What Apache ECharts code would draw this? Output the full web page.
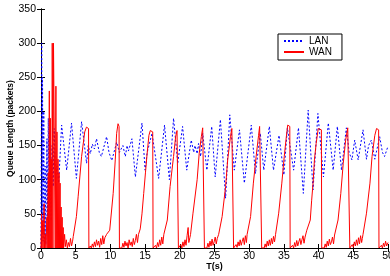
<!DOCTYPE html>
<html>
<head>
<meta charset="utf-8">
<script src="https://cdn.jsdelivr.net/npm/echarts@6/dist/echarts.min.js"></script>
<style>
  html, body { margin: 0; padding: 0; background: #fff; }
  #chart { width: 390px; height: 276px; }
</style>
</head>
<body>
<div id="chart"></div>
<script>
// axis ranges
var tMin = 0, tMax = 50, tStep = 5;
var qMin = 0, qMax = 350, qStep = 50;
var seriesNames = ['LAN', 'WAN'];

// LAN queue length [T(s), packets]
var lanQueue = [
    [0,0],[0.05,150],[0.1,300],[0.15,20],[0.22,250],[0.3,10],[0.4,200],[0.5,0],[0.6,120],
    [0.7,5],[0.85,160],[0.95,40],[1.05,190],[1.15,60],[1.3,120],[1.45,40],[1.6,150],
    [1.75,90],[1.9,175],[2.1,100],[2.3,120],[2.55,95],[2.97,180],[3.3,150],[3.7,114],
    [4.4,183],[5.1,102],[5.85,185],[6.57,124],[6.8,150],[7.1,138],[7.4,152],[7.7,145],
    [8.0,160],[8.4,140],[8.7,134],[9.45,163],[9.8,140],[10.2,128],[10.9,155],[11.3,140],
    [11.8,150],[12.15,134],[12.4,150],[12.6,142],[13.1,160],[13.6,104],[14.55,183],
    [15.0,114],[15.3,140],[16.0,168],[16.95,102],[17.8,180],[18.5,100],[19.1,190],
    [19.7,124],[20.4,178],[21.0,114],[21.65,158],[22.0,140],[22.2,150],[22.5,138],
    [22.7,153],[23.0,134],[23.3,168],[23.9,114],[24.6,178],[25.1,104],[25.85,188],
    [26.6,73],[27.2,195],[27.85,114],[28.6,173],[29.3,95],[30.3,180],[30.9,109],
    [31.6,168],[32.1,114],[32.9,178],[33.5,114],[34.3,165],[35.0,107],[35.5,176],
    [36.4,114],[37.1,176],[37.8,80],[38.5,202],[39.2,85],[39.9,197],[40.7,104],
    [41.4,183],[42.1,114],[42.7,178],[43.3,114],[44.0,176],[44.4,140],[44.8,129],
    [45.2,158],[45.7,129],[46.4,173],[46.9,130],[47.2,150],[47.6,158],[48.1,130],
    [48.8,163],[49.2,140],[49.5,134],[50,149]
];

// WAN queue length [T(s), packets]
var wanQueue = [
    [0,0],[0.08,50],[0.12,0],[0.25,40],[0.3,0],[0.45,65],[0.5,0],[0.65,20],[0.7,0],
    [0.85,45],[0.9,0],[1.05,110],[1.1,0],[1.2,230],[1.25,0],[1.35,190],[1.4,0],
    [1.5,130],[1.55,0],[1.62,300],[1.7,300],[1.72,0],[1.8,300],[2.0,300],[2.05,0],
    [2.15,237],[2.2,0],[2.3,170],[2.35,0],[2.45,130],[2.5,0],[2.6,110],[2.65,0],
    [2.75,95],[2.8,0],[2.9,60],[2.95,0],[3.05,45],[3.1,0],[3.2,30],[3.25,0],[3.4,20],
    [3.5,2],[3.65,12],[3.8,0],[3.95,8],[4.1,2],[4.25,14],[4.4,3],[4.55,10],
    [4.65,17],[5.1,46],[5.35,75],[5.85,134],[6.3,170],[6.55,177],[6.85,175],[6.9,0],
    [7.1,3],[7.25,0],[7.4,6],[7.55,1],[7.7,9],[7.85,2],[8.0,12],[8.15,4],[8.3,10],
    [8.45,1],[8.6,14],[8.75,5],[8.9,18],[9.05,6],[9.2,15],
    [9.45,20],[9.9,26],[10.4,80],[10.7,129],[10.9,168],[11.1,182],[11.25,178],[11.3,0],
    [11.5,2],[11.65,0],[11.8,7],[11.95,1],[12.1,10],[12.25,3],[12.4,8],[12.55,0],
    [12.7,12],[12.85,4],[13.0,9],[13.15,2],[13.3,14],[13.45,5],[13.6,11],[13.75,20],[13.9,8],
    [14.05,20],[14.3,28],[14.55,50],[14.8,80],[15.05,110],[15.3,139],[15.55,165],
    [15.75,172],[16.1,170],[16.15,0],
    [16.35,0],[16.5,4],[16.65,0],[16.8,8],[16.95,2],[17.1,12],[17.25,4],[17.4,16],
    [17.55,6],[17.7,20],
    [17.85,20],[18.2,41],[18.6,90],[19.1,134],[19.4,163],[19.6,172],[19.75,170],[19.8,0],
    [20.0,0],[20.15,5],[20.3,0],[20.45,9],[20.6,2],[20.75,12],[20.9,4],[21.05,18],
    [21.2,30],[21.3,8],[21.45,15],
    [21.55,20],[21.9,51],[22.5,100],[22.8,139],[23.1,163],[23.3,176],[23.5,174],[23.55,0],
    [23.75,2],[23.9,0],[24.05,7],[24.2,1],[24.35,10],[24.5,3],[24.65,13],[24.8,4],
    [24.95,9],[25.1,16],[25.25,6],[25.4,14],
    [25.6,20],[26.1,46],[26.6,90],[26.9,129],[27.3,163],[27.5,175],[27.7,173],[27.75,0],
    [27.95,0],[28.1,5],[28.25,1],[28.4,9],[28.55,3],[28.7,12],[28.85,4],[29.0,10],
    [29.15,15],[29.3,5],[29.45,18],[29.6,8],
    [29.7,20],[30.2,46],[30.6,95],[31.0,134],[31.35,165],[31.5,178],[31.75,176],[31.8,0],
    [32.0,2],[32.15,0],[32.3,6],[32.45,1],[32.6,10],[32.75,3],[32.9,12],[33.05,4],
    [33.2,14],[33.35,6],[33.5,17],[33.65,9],
    [33.8,20],[34.25,51],[34.7,95],[35.05,134],[35.35,163],[35.55,180],[35.85,178],[35.9,0],
    [36.1,0],[36.25,4],[36.4,0],[36.55,8],[36.7,2],[36.85,11],[37.0,3],[37.15,9],
    [37.3,14],[37.45,5],[37.6,12],[37.75,18],[37.9,7],[38.05,16],[38.2,22],
    [38.3,26],[38.8,41],[39.0,70],[39.2,95],[39.4,129],[39.65,153],[39.95,175],[40.4,173],[40.45,0],
    [40.65,2],[40.8,0],[40.95,6],[41.1,1],[41.25,10],[41.4,3],[41.55,13],[41.7,5],
    [41.85,9],[42.0,16],[42.15,6],[42.3,19],
    [42.4,20],[42.8,41],[43.2,80],[43.55,124],[43.9,158],[44.2,176],[44.45,175],[44.5,0],
    [44.7,0],[44.85,5],[45.0,1],[45.15,9],[45.3,3],[45.45,12],[45.6,4],[45.75,15],
    [45.9,6],[46.05,18],[46.2,8],[46.3,14],
    [46.4,20],[46.9,51],[47.4,95],[47.7,134],[48.1,165],[48.35,175],[48.65,173],[48.7,0],
    [48.9,0],[49.05,4],[49.2,0],[49.35,7],[49.5,2],[49.65,10],[49.8,3],[50,8]
];

var font = "'Liberation Sans', Arial, sans-serif";
var chart = echarts.init(document.getElementById('chart'));

var option = {
    animation: false,
    backgroundColor: '#fff',
    grid: {
        left: 41, right: 2, top: 9, bottom: 28,
        outerBoundsMode: 'none'
    },
    legend: {
        data: seriesNames,
        orient: 'vertical',
        left: 278, top: 34,
        itemWidth: 20, itemHeight: 10, itemGap: 1,
        padding: [2, 10, 3, 5],
        borderColor: '#000', borderWidth: 1,
        backgroundColor: '#fff',
        itemStyle: { opacity: 0 },   // hide the symbol, keep the line sample
        textStyle: { fontFamily: font, fontSize: 10, color: '#000' }
    },
    xAxis: [
        {
            type: 'value', min: tMin, max: tMax, interval: tStep,
            name: 'T(s)', nameLocation: 'middle', nameGap: 14, nameMoveOverlap: false,
            nameTextStyle: { fontFamily: font, fontSize: 9, fontWeight: 'bold', color: '#000' },
            axisLine: { lineStyle: { color: '#999', width: 1 } },
            axisTick: { inside: true, length: 4, lineStyle: { color: '#000' } },
            axisLabel: { fontFamily: font, fontSize: 10.5, color: '#000', margin: 3 },
            splitLine: { show: false }
        },
        {
            type: 'value', position: 'top', min: tMin, max: tMax, interval: tStep,
            axisLine: { lineStyle: { color: '#000' } },
            axisTick: { inside: true, length: 4, lineStyle: { color: '#000' } },
            axisLabel: { show: false },
            splitLine: { show: false }
        }
    ],
    yAxis: [
        {
            type: 'value', min: qMin, max: qMax, interval: qStep,
            name: 'Queue Length (packets)', nameLocation: 'middle', nameGap: 26, nameMoveOverlap: false,
            nameTextStyle: { fontFamily: font, fontSize: 8.5, fontWeight: 'bold', color: '#000' },
            axisLine: { show: true, lineStyle: { color: '#000' } },
            axisTick: { show: true, inside: true, length: 4, lineStyle: { color: '#000' } },
            axisLabel: { fontFamily: font, fontSize: 10.5, color: '#000', margin: 5 },
            splitLine: { show: false }
        },
        {
            type: 'value', position: 'right', min: qMin, max: qMax, interval: qStep,
            axisLine: { show: true, lineStyle: { color: '#000' } },
            axisTick: { show: true, inside: true, length: 4, lineStyle: { color: '#000' } },
            axisLabel: { show: false },
            splitLine: { show: false }
        }
    ],
    series: [
        {
            name: seriesNames[0], type: 'line', data: lanQueue,
            symbol: 'none', xAxisIndex: 0, yAxisIndex: 0,
            lineStyle: { color: '#0000ff', width: 1, type: [2, 2] },
            itemStyle: { color: '#0000ff' }
        },
        {
            name: seriesNames[1], type: 'line', data: wanQueue,
            symbol: 'none', xAxisIndex: 0, yAxisIndex: 0,
            lineStyle: { color: '#ff0000', width: 1 },
            itemStyle: { color: '#ff0000' }
        }
    ]
};
chart.setOption(option);
</script>
</body>
</html>
